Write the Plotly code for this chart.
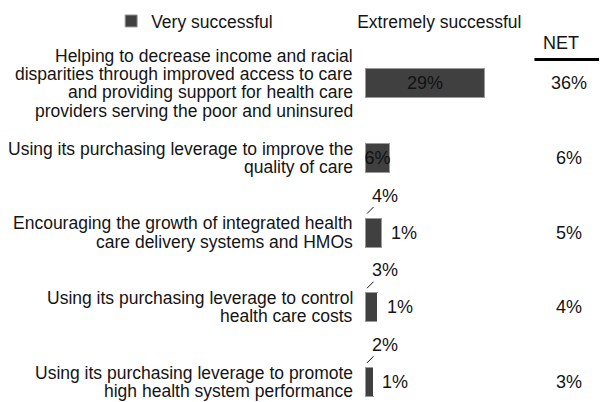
import plotly.graph_objects as go

# ---------------- data ----------------
label_lines = [
    ["Helping to decrease income and racial",
     "disparities through improved access to care",
     "and providing support for health care",
     "providers serving the poor and uninsured"],
    ["Using its purchasing leverage to improve the",
     "quality of care"],
    ["Encouraging the growth of integrated health",
     "care delivery systems and HMOs"],
    ["Using its purchasing leverage to control",
     "health care costs"],
    ["Using its purchasing leverage to promote",
     "high health system performance"],
]
categories = [" ".join(l) for l in label_lines]
very_successful = [29, 6, 4, 3, 2]
extremely_successful = [7, 0, 1, 1, 1]
net_values = [36, 6, 5, 4, 3]
series_names = ["Very successful", "Extremely successful"]

# ---------------- style ----------------
FONT = "Liberation Sans, Arial, sans-serif"
TXT = "#141414"
BAR = "#404040"
LBL_SIZE = 17.5
NUM_SIZE = 18
LINE_PITCH = 18.3

fig = go.Figure()

inside_text = [f"{v}%" if v >= 5 else "" for v in very_successful]
fig.add_trace(go.Bar(
    y=categories, x=very_successful, orientation="h", name=series_names[0],
    marker=dict(color=BAR, line=dict(color="#9a9a9a", width=1)),
    text=inside_text, textposition="inside", insidetextanchor="middle",
    textangle=0, constraintext="none", cliponaxis=False,
    insidetextfont=dict(family=FONT, size=NUM_SIZE, color="#111111"),
    hoverinfo="skip",
))
fig.add_trace(go.Bar(
    y=categories, x=extremely_successful, orientation="h", name=series_names[1],
    marker=dict(color="#ffffff", line=dict(color="#ffffff", width=0)),
    hoverinfo="skip",
))

annotations = []
# category labels, one annotation per line (tight leading)
for cat, lines in zip(categories, label_lines):
    n = len(lines)
    for i, line in enumerate(lines):
        annotations.append(dict(
            x=0, xref="paper", y=cat, yref="y", text=line, showarrow=False,
            xanchor="right", yanchor="middle", xshift=-10,
            yshift=-(i - (n - 1) / 2) * LINE_PITCH,
            font=dict(family=FONT, size=LBL_SIZE, color=TXT),
        ))

# small-bar labels with leader lines, and extremely-successful labels
for cat, v, e in zip(categories, very_successful, extremely_successful):
    if v < 5:
        annotations.append(dict(
            x=0, y=cat, xref="x", yref="y", text=f"{v}%",
            showarrow=True, arrowhead=0, arrowwidth=1, arrowcolor=TXT,
            xshift=2, yshift=19, ax=18, ay=-18, standoff=0,
            font=dict(family=FONT, size=NUM_SIZE, color=TXT),
        ))
        annotations.append(dict(
            x=v + e, y=cat, xref="x", yref="y", text=f"{e}%",
            showarrow=False, xanchor="left", xshift=3,
            font=dict(family=FONT, size=NUM_SIZE, color=TXT),
        ))

# NET column
annotations.append(dict(
    x=0.81, y=1, xref="paper", yref="paper", text="NET", showarrow=False,
    xanchor="center", yanchor="middle", yshift=3,
    font=dict(family=FONT, size=NUM_SIZE, color=TXT),
))
for cat, n in zip(categories, net_values):
    annotations.append(dict(
        x=0.843, y=cat, xref="paper", yref="y", text=f"{n}%", showarrow=False,
        xanchor="center", yanchor="middle",
        font=dict(family=FONT, size=NUM_SIZE, color=TXT),
    ))

fig.update_layout(
    width=599, height=394,
    margin=dict(l=357, r=0, t=38, b=0, autoexpand=False),
    paper_bgcolor="white", plot_bgcolor="white",
    barmode="stack", bargap=0.61,
    font=dict(family=FONT, size=LBL_SIZE, color=TXT),
    xaxis=dict(range=[0, 58.5], visible=False, fixedrange=True),
    yaxis=dict(range=[4.27, -0.5], showticklabels=False, showgrid=False,
               zeroline=False, ticks="", fixedrange=True),
    showlegend=True,
    legend=dict(orientation="h", x=-1.049, xanchor="left", y=1.07, yanchor="middle",
                entrywidth=161, entrywidthmode="pixels",
                font=dict(family=FONT, size=LBL_SIZE, color=TXT),
                bgcolor="rgba(0,0,0,0)", traceorder="normal"),
    annotations=annotations,
    shapes=[dict(type="line", xref="paper", yref="paper", layer="above",
                 x0=0.70, x1=1.0, y0=0.962, y1=0.962,
                 line=dict(color="#000000", width=3))],
)

fig.write_html("out.html")
